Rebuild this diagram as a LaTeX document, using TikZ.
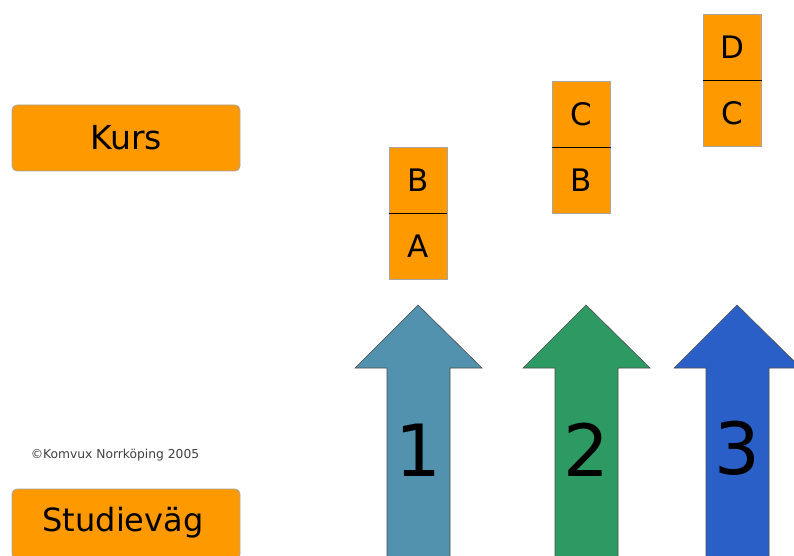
\documentclass[tikz,border=0pt]{standalone}
\usepackage{fontspec}
\setmainfont{DejaVu Sans}
\definecolor{kursorange}{RGB}{255,153,0}
\definecolor{arrowone}{RGB}{82,146,174}
\definecolor{arrowtwo}{RGB}{46,154,99}
\definecolor{arrowthree}{RGB}{43,95,200}
\begin{document}
\begin{tikzpicture}[x=1pt,y=-1pt,
  labelbox/.style={draw=gray!70, line width=0.8pt, fill=kursorange, rounded corners=5pt,
    minimum width=228pt, minimum height=66pt, inner sep=0pt},
  cell/.style={draw=gray!70, line width=0.8pt, fill=kursorange, minimum width=58pt,
    minimum height=66pt, inner sep=0pt, font=\fontsize{31}{31}\selectfont},
  bigarrow/.style={draw=black!70, line width=0.6pt},
  numlabel/.style={font=\fontsize{72}{72}\selectfont, inner sep=0pt}]
\path[use as bounding box] (0,0) rectangle (794,556);
\clip (0,0) rectangle (794,556);
\fill[white] (0,0) rectangle (794,556);

% label boxes
\node[labelbox, font=\fontsize{33}{33}\selectfont] (kurs) at (126,138) {Kurs};
\node[labelbox, minimum height=70pt, font=\fontsize{32}{32}\selectfont] (studievag) at (126,524) {};
\node[font=\fontsize{32}{32}\selectfont, inner sep=0pt] (studtext) at (123,523) {Studieväg};
\node[font=\fontsize{12.3}{13}\selectfont, text=black!75, inner sep=0pt] (copy) at (115,455) {©Komvux Norrköping 2005};

% course cells
\node[cell] (a1) at (418,246) {A};
\node[cell] (b1) at (418,180) {B};
\node[cell] (b2) at (581.5,180) {B};
\node[cell] (c2) at (581.5,114) {C};
\node[cell] (c3) at (732.5,113) {C};
\node[cell] (d3) at (732.5,47) {D};
\draw[black, line width=1.2pt] (b1.south west) -- (b1.south east);
\draw[black, line width=1.2pt] (c2.south west) -- (c2.south east);
\draw[black, line width=1.2pt] (d3.south west) -- (d3.south east);

% arrows
\draw[bigarrow, fill=arrowone] (418,305) -- (482,368) -- (450,368) -- (450,570) -- (387,570) -- (387,368) -- (355,368) -- cycle;
\draw[bigarrow, fill=arrowtwo] (586,305) -- (650,368) -- (618,368) -- (618,570) -- (555,570) -- (555,368) -- (523,368) -- cycle;
\draw[bigarrow, fill=arrowthree] (737,305) -- (801,368) -- (769,368) -- (769,570) -- (706,570) -- (706,368) -- (674,368) -- cycle;
\node[numlabel] (n1) at (418,450) {1};
\node[numlabel] (n2) at (586,450) {2};
\node[numlabel] (n3) at (737,448) {3};
\end{tikzpicture}
\end{document}
